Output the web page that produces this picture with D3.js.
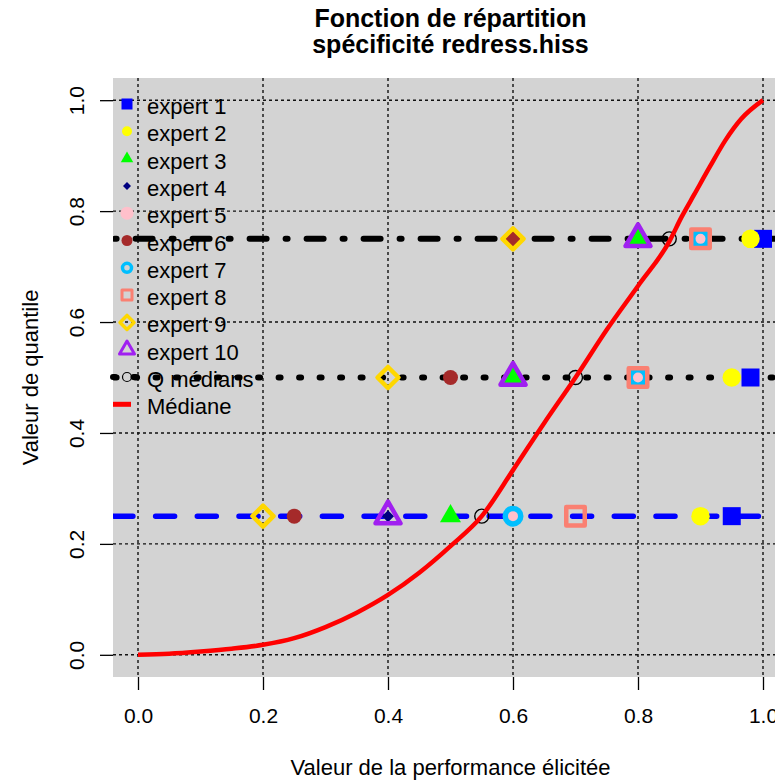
<!DOCTYPE html>
<html>
<head>
<meta charset="utf-8">
<script src="https://cdn.jsdelivr.net/npm/d3@7"></script>
<style>
  body { margin: 0; background: #ffffff; }
  svg { display: block; }
  text { font-family: "Liberation Sans", Arial, Helvetica, sans-serif; fill: #000; }
</style>
</head>
<body>
<svg id="chart" width="775" height="784"></svg>
<script>
// ---- data ----
const experts = ["expert 1", "expert 2", "expert 3", "expert 4", "expert 5",
                 "expert 6", "expert 7", "expert 8", "expert 9", "expert 10"];
const quantileLevels = [0.25, 0.5, 0.75];
// elicited values of each expert at the 25%, 50% and 75% quantiles
const q25 = [0.95, 0.90, 0.50, 0.40, 0.60, 0.25, 0.60, 0.70, 0.20, 0.40];
const q50 = [0.98, 0.95, 0.60, 0.50, 0.80, 0.50, 0.80, 0.80, 0.40, 0.60];
const q75 = [1.00, 0.98, 0.80, 0.60, 0.90, 0.60, 0.90, 0.90, 0.60, 0.80];
// medians of the experts' quantiles
const qMedians = [0.55, 0.70, 0.85];
// median distribution function
const medianX = [0, 0.05, 0.10, 0.15, 0.20, 0.25, 0.30, 0.35, 0.40, 0.45, 0.50, 0.55,
                 0.60, 0.65, 0.70, 0.75, 0.80, 0.85, 0.87, 0.89, 0.915, 0.94, 0.965, 1.00];
const medianF = [0, 0.002, 0.006, 0.011, 0.018, 0.030, 0.050, 0.076, 0.108, 0.148, 0.196, 0.250,
                 0.333, 0.418, 0.500, 0.586, 0.665, 0.745, 0.790, 0.830, 0.880, 0.928, 0.966, 1.000];
const ticks = [0, 0.2, 0.4, 0.6, 0.8, 1.0];
const tickLabels = ["0.0", "0.2", "0.4", "0.6", "0.8", "1.0"];
const titleLines = ["Fonction de répartition", "spécificité redress.hiss"];
const xTitle = "Valeur de la performance élicitée";
const yTitle = "Valeur de quantile";
const legendExtra = ["Q médians", "Médiane"];

// ---- styles ----
const expertColors = ["#0000FF", "#FFFF00", "#00FF00", "#000080", "#FFC0CB",
                      "#A52A2A", "#00BFFF", "#FA8072", "#FFD700", "#A020F0"];
// [shape, filled, size in plot, stroke in plot, size in legend, stroke in legend]
const expertMarks = [
  ["square",   true, 18,   0,   11,  0],
  ["circle",   true, 18.5, 0,   10,  0],
  ["triangle", true, 21,   0,   12.5,0],
  ["diamond",  true, 12,   0,   8,   0],
  ["circle",   true, 19,   0,   13,  0],
  ["circle",   true, 15,   0,   11,  0],
  ["circle",   false,15.5, 5.5, 9,   3.5],
  ["square",   false,18.5, 4.5, 10,  3],
  ["diamond",  false,21,   4.5, 14,  3.5],
  ["triangle", false,25,   4.5, 15,  3]
];
const lineStyles = [
  { color: "#0000FF", width: 5.5, dash: "19,22.7", offset: -0.9 },   // 25 %
  { color: "#000000", width: 6,   dash: "2,18.5",  offset: -1.6 },   // 50 %
  { color: "#000000", width: 6,   dash: "2,19,17,19", offset: -1.6 } // 75 %
];
const FONT = 22;

function markPath(kind, s) {
  if (kind === "square") return `M${-s/2},${-s/2}h${s}v${s}h${-s}Z`;
  if (kind === "circle") {
    const r = s / 2;
    return `M${r},0A${r},${r} 0 1,1 ${-r},0A${r},${r} 0 1,1 ${r},0Z`;
  }
  if (kind === "triangle") {
    const h = s * Math.sqrt(3) / 2;
    return `M0,${-2*h/3}L${s/2},${h/3}L${-s/2},${h/3}Z`;
  }
  const d = s / 2;
  return `M0,${-d}L${d},0L0,${d}L${-d},0Z`;
}

function drawMark(g, kind, filled, size, sw, color, cx, cy) {
  const p = g.append("path")
    .attr("d", markPath(kind, size))
    .attr("transform", `translate(${cx},${cy})`)
    .attr("stroke-linejoin", "round");
  if (filled) p.attr("fill", color).attr("stroke", "none");
  else p.attr("fill", "none").attr("stroke", color).attr("stroke-width", sw);
}

// ---- layout ----
const svg = d3.select("#chart");
const area = { left: 113, right: 788, top: 78, bottom: 677 };
const x = d3.scaleLinear().domain([-0.04, 1.04]).range([area.left, area.right]);
const y = d3.scaleLinear().domain([-0.04, 1.04]).range([area.bottom, area.top]);

svg.append("defs").append("clipPath").attr("id", "plotClip")
  .append("rect")
  .attr("x", area.left).attr("y", area.top)
  .attr("width", area.right - area.left).attr("height", area.bottom - area.top);

// plot background
svg.append("rect")
  .attr("x", area.left).attr("y", area.top)
  .attr("width", area.right - area.left).attr("height", area.bottom - area.top)
  .attr("fill", "#D3D3D3");

const plot = svg.append("g").attr("clip-path", "url(#plotClip)");

// dotted grid
const grid = plot.append("g").attr("stroke", "#111").attr("stroke-width", 1.4)
  .attr("stroke-dasharray", "3,3");
grid.selectAll("line.v").data(ticks).join("line").attr("class", "v")
  .attr("x1", d => x(d)).attr("x2", d => x(d))
  .attr("y1", area.top).attr("y2", area.bottom);
grid.selectAll("line.h").data(ticks).join("line").attr("class", "h")
  .attr("x1", area.left).attr("x2", area.right)
  .attr("y1", d => y(d)).attr("y2", d => y(d));

// horizontal lines at the quantile levels
plot.append("g").selectAll("line").data(quantileLevels).join("line")
  .attr("x1", area.left).attr("x2", area.right)
  .attr("y1", d => y(d)).attr("y2", d => y(d))
  .attr("stroke", (d, i) => lineStyles[i].color)
  .attr("stroke-width", (d, i) => lineStyles[i].width)
  .attr("stroke-dasharray", (d, i) => lineStyles[i].dash)
  .attr("stroke-dashoffset", (d, i) => lineStyles[i].offset)
  .attr("stroke-linecap", "round");

// experts' quantiles
const marks = plot.append("g");
experts.forEach((name, i) => {
  const [kind, filled, size, sw] = expertMarks[i];
  [q25[i], q50[i], q75[i]].forEach((v, k) => {
    drawMark(marks, kind, filled, size, sw, expertColors[i], x(v), y(quantileLevels[k]));
  });
});

// medians of the quantiles
qMedians.forEach((v, k) => {
  drawMark(marks, "circle", false, 14, 1.4, "#000", x(v), y(quantileLevels[k]));
});

// median distribution function
const line = d3.line().x((d, i) => x(medianX[i])).y(d => y(d)).curve(d3.curveMonotoneX);
plot.append("path")
  .attr("d", line(medianF))
  .attr("fill", "none")
  .attr("stroke", "#FF0000")
  .attr("stroke-width", 4.5)
  .attr("stroke-linejoin", "round");

// ---- axes ----
const xAxis = svg.append("g").attr("transform", `translate(0,${area.bottom})`)
  .call(d3.axisBottom(x).tickValues(ticks).tickFormat((d, i) => tickLabels[i]).tickSize(13));
xAxis.select(".domain").remove();
xAxis.selectAll(".tick line").attr("stroke", "#000").attr("stroke-width", 1.3);
xAxis.selectAll(".tick text")
  .attr("y", 46).attr("dy", 0)
  .attr("font-size", 21).attr("fill", "#000")
  .style("font-family", "'Liberation Sans', Arial, sans-serif");

const yAxis = svg.append("g").attr("transform", `translate(${area.left},0)`)
  .call(d3.axisLeft(y).tickValues(ticks).tickFormat((d, i) => tickLabels[i]).tickSize(13));
yAxis.select(".domain").remove();
yAxis.selectAll(".tick line").attr("stroke", "#000").attr("stroke-width", 1.3);
yAxis.selectAll(".tick text")
  .attr("x", 0).attr("y", 0).attr("dy", 0)
  .attr("text-anchor", "middle")
  .attr("transform", "translate(-29,0) rotate(-90)")
  .attr("font-size", 21).attr("fill", "#000")
  .style("font-family", "'Liberation Sans', Arial, sans-serif");

// ---- titles ----
const cx = (area.left + area.right) / 2;
svg.append("g").selectAll("text").data(titleLines).join("text")
  .attr("x", cx).attr("y", (d, i) => 27 + i * 26)
  .attr("text-anchor", "middle")
  .attr("font-size", 25).attr("font-weight", "bold")
  .text(d => d);

svg.append("text")
  .attr("x", cx).attr("y", 775)
  .attr("text-anchor", "middle").attr("font-size", FONT)
  .text(xTitle);

svg.append("text")
  .attr("transform", `translate(38,${(area.top + area.bottom) / 2}) rotate(-90)`)
  .attr("text-anchor", "middle").attr("font-size", FONT)
  .text(yTitle);

// ---- legend ----
const legend = svg.append("g");
const legX = 127, legTextX = 147, legY0 = 104, legStep = 27.3;
experts.forEach((name, i) => {
  const [kind, filled, , , ls, lsw] = expertMarks[i];
  const ry = legY0 + i * legStep;
  drawMark(legend, kind, filled, ls, lsw, expertColors[i], legX, ry);
  legend.append("text").attr("x", legTextX).attr("y", ry + 10)
    .attr("font-size", FONT).text(name);
});
{
  const ry = legY0 + 10 * legStep;
  legend.append("line").attr("x1", area.left).attr("x2", 141)
    .attr("y1", ry).attr("y2", ry)
    .attr("stroke", "#000").attr("stroke-width", 6)
    .attr("stroke-dasharray", "2,18.5").attr("stroke-linecap", "round");
  drawMark(legend, "circle", false, 9, 1.2, "#000", legX, ry);
  legend.append("text").attr("x", legTextX).attr("y", ry + 10)
    .attr("font-size", FONT).text(legendExtra[0]);
}
{
  const ry = legY0 + 11 * legStep;
  legend.append("line").attr("x1", area.left).attr("x2", 131)
    .attr("y1", ry).attr("y2", ry)
    .attr("stroke", "#FF0000").attr("stroke-width", 5);
  legend.append("text").attr("x", legTextX).attr("y", ry + 10)
    .attr("font-size", FONT).text(legendExtra[1]);
}
</script>
</body>
</html>
